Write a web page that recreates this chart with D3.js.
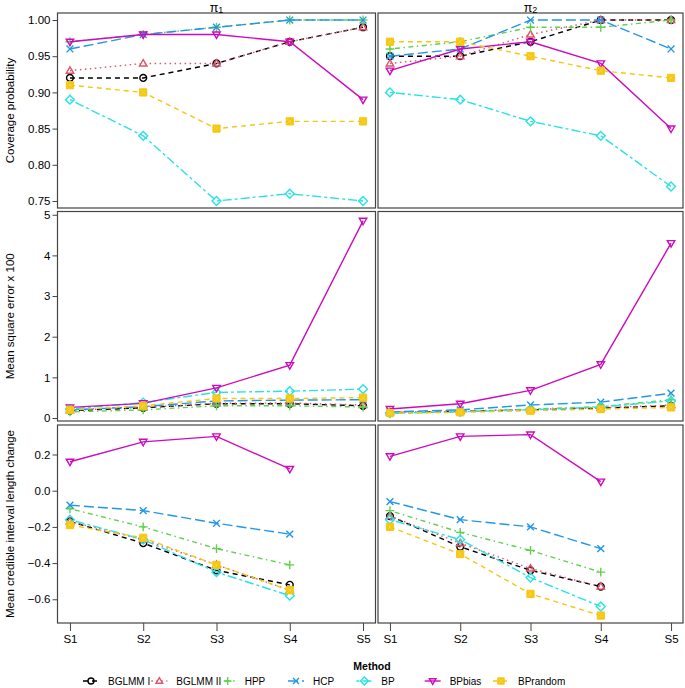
<!DOCTYPE html>
<html>
<head>
<meta charset="utf-8">
<script src="https://cdn.jsdelivr.net/npm/d3@7"></script>
<style>
  body { margin: 0; background: #fff; }
  text { font-family: "Liberation Sans", Arial, sans-serif; }
</style>
</head>
<body>
<div id="chart"></div>
<script>
const scenarios = ['S1', 'S2', 'S3', 'S4', 'S5'];
const methods = ['BGLMM I', 'BGLMM II', 'HPP', 'HCP', 'BP', 'BPbias', 'BPrandom'];
const colors = ['#000000', '#DF536B', '#61D04F', '#2297E6', '#28E2E5', '#CD0BBC', '#F5C710'];
const dashes = ['5,4', '1.5,3.5', '1.5,3.5,5,3.5', '10,4', '3,3,9,3', null, '5,4'];
const shapes = ['circle', 'triUp', 'plus', 'cross', 'diamond', 'triDown', 'square'];

const rowTitles = ['Coverage probability', 'Mean square error x 100', 'Mean credible interval length change'];
const colTitles = ['1', '2'];

const covTicks = [0.75, 0.80, 0.85, 0.90, 0.95, 1.00];
const mseTicks = [0, 1, 2, 3, 4, 5];
const lenTicks = [-0.6, -0.4, -0.2, 0.0, 0.2];

// coverage probability, one row per method
const covPi1 = [
  [0.92, 0.92, 0.94, 0.97, 0.99],
  [0.93, 0.94, 0.94, 0.97, 0.99],
  [0.97, 0.98, 0.99, 1.00, 1.00],
  [0.96, 0.98, 0.99, 1.00, 1.00],
  [0.89, 0.84, 0.75, 0.76, 0.75],
  [0.97, 0.98, 0.98, 0.97, 0.89],
  [0.91, 0.90, 0.85, 0.86, 0.86]
];
const covPi2 = [
  [0.95, 0.95, 0.97, 1.00, 1.00],
  [0.94, 0.95, 0.98, 1.00, 1.00],
  [0.96, 0.97, 0.99, 0.99, 1.00],
  [0.95, 0.96, 1.00, 1.00, 0.96],
  [0.90, 0.89, 0.86, 0.84, 0.77],
  [0.93, 0.96, 0.97, 0.94, 0.85],
  [0.97, 0.97, 0.95, 0.93, 0.92]
];
// mean square error x 100
const msePi1 = [
  [0.18, 0.25, 0.35, 0.35, 0.30],
  [0.19, 0.26, 0.36, 0.37, 0.32],
  [0.15, 0.20, 0.30, 0.30, 0.27],
  [0.20, 0.28, 0.42, 0.44, 0.45],
  [0.22, 0.38, 0.63, 0.66, 0.71],
  [0.26, 0.36, 0.74, 1.30, 4.85],
  [0.20, 0.30, 0.48, 0.48, 0.50]
];
const msePi2 = [
  [0.13, 0.16, 0.20, 0.24, 0.30],
  [0.14, 0.17, 0.21, 0.25, 0.32],
  [0.12, 0.15, 0.22, 0.28, 0.45],
  [0.15, 0.20, 0.32, 0.39, 0.61],
  [0.12, 0.15, 0.20, 0.27, 0.42],
  [0.22, 0.35, 0.68, 1.32, 4.30],
  [0.12, 0.14, 0.18, 0.22, 0.26]
];
// mean credible interval length change (no S5)
const lenPi1 = [
  [-0.17, -0.29, -0.44, -0.52, null],
  [-0.17, -0.27, -0.41, -0.55, null],
  [-0.10, -0.20, -0.32, -0.41, null],
  [-0.08, -0.11, -0.18, -0.24, null],
  [-0.16, -0.27, -0.45, -0.58, null],
  [0.16, 0.27, 0.30, 0.12, null],
  [-0.19, -0.26, -0.41, -0.55, null]
];
const lenPi2 = [
  [-0.14, -0.31, -0.44, -0.53, null],
  [-0.14, -0.29, -0.43, -0.53, null],
  [-0.11, -0.23, -0.33, -0.45, null],
  [-0.06, -0.16, -0.20, -0.32, null],
  [-0.16, -0.27, -0.48, -0.64, null],
  [0.19, 0.30, 0.31, 0.05, null],
  [-0.20, -0.35, -0.57, -0.69, null]
];

const W = 685, H = 688;
const svg = d3.select('#chart').append('svg')
  .attr('width', W)
  .attr('height', H);

const cols = [[57.5, 375.5], [378, 683]];
const rows = [[13, 208], [211.5, 421], [425, 623]];
const domains = [[0.7403, 1.0097], [-0.074, 5.08], [-0.731, 0.363]];
const ticks = [covTicks, mseTicks, lenTicks];
const fmts = [d3.format('.2f'), d3.format('d'), d3.format('.1f')];
const data = [[covPi1, covPi2], [msePi1, msePi2], [lenPi1, lenPi2]];

const symbolPath = (shape, s) => {
  const p = d3.path();
  if (shape === 'circle') {
    p.moveTo(s, 0); p.arc(0, 0, s, 0, 2 * Math.PI);
  } else if (shape === 'triUp') {
    p.moveTo(0, -s * 1.15); p.lineTo(s * 1.1, s * 0.75); p.lineTo(-s * 1.1, s * 0.75); p.closePath();
  } else if (shape === 'triDown') {
    p.moveTo(0, s * 1.15); p.lineTo(s * 1.1, -s * 0.75); p.lineTo(-s * 1.1, -s * 0.75); p.closePath();
  } else if (shape === 'plus') {
    p.moveTo(-s * 1.3, 0); p.lineTo(s * 1.3, 0); p.moveTo(0, -s * 1.3); p.lineTo(0, s * 1.3);
  } else if (shape === 'cross') {
    p.moveTo(-s, -s); p.lineTo(s, s); p.moveTo(-s, s); p.lineTo(s, -s);
  } else if (shape === 'diamond') {
    p.moveTo(0, -s * 1.3); p.lineTo(s * 1.3, 0); p.lineTo(0, s * 1.3); p.lineTo(-s * 1.3, 0); p.closePath();
  } else if (shape === 'square') {
    p.rect(-s, -s, 2 * s, 2 * s);
  }
  return p.toString();
};

const drawMarker = (g, i, x, y, s = 3.4) => {
  const m = g.append('g').attr('transform', `translate(${x},${y})`);
  if (shapes[i] === 'square') {
    m.append('path').attr('d', symbolPath('square', s + 0.2))
      .attr('fill', colors[i]).attr('stroke', colors[i]).attr('stroke-width', 1);
    m.append('path').attr('d', symbolPath('cross', s * 0.65))
      .attr('fill', 'none').attr('stroke', '#fbe38a').attr('stroke-width', 0.8)
      .attr('stroke-dasharray', '1,1');
  } else {
    m.append('path').attr('d', symbolPath(shapes[i], s))
      .attr('fill', 'none').attr('stroke', colors[i]).attr('stroke-width', 1.4);
  }
};

rows.forEach((r, ri) => {
  const y = d3.scaleLinear().domain(domains[ri]).range([r[1], r[0]]);
  cols.forEach((c, ci) => {
    const x = d3.scalePoint().domain(scenarios).range([c[0], c[1]]).padding(0.17);
    const g = svg.append('g');

    if (ci === 0) {
      g.append('g')
        .attr('transform', `translate(${c[0]},0)`)
        .call(d3.axisLeft(y).tickValues(ticks[ri]).tickFormat(fmts[ri]).tickSize(5).tickPadding(2))
        .call(a => a.select('.domain').remove())
        .call(a => a.selectAll('text').attr('font-size', 11.5).attr('fill', '#000')
          .text(d => fmts[ri](d).replace('-', '\u2212')))
        .call(a => a.selectAll('line').attr('stroke', '#444'));
    }
    if (ri === 2) {
      g.append('g')
        .attr('transform', `translate(0,${r[1]})`)
        .call(d3.axisBottom(x).tickSize(8).tickPadding(4))
        .call(a => a.select('.domain').remove())
        .call(a => a.selectAll('text').attr('font-size', 11.5).attr('fill', '#000'))
        .call(a => a.selectAll('line').attr('stroke', '#444'));
    }

    const series = data[ri][ci];
    const line = d3.line()
      .defined(d => d.v !== null)
      .x(d => x(d.s))
      .y(d => y(d.v));
    series.forEach((vals, mi) => {
      const pts = vals.map((v, k) => ({ s: scenarios[k], v }));
      g.append('path')
        .attr('d', line(pts))
        .attr('fill', 'none')
        .attr('stroke', colors[mi])
        .attr('stroke-width', 1.4)
        .attr('stroke-dasharray', dashes[mi]);
      pts.filter(d => d.v !== null).forEach(d => drawMarker(g, mi, x(d.s), y(d.v)));
    });

    g.append('rect')
      .attr('x', c[0]).attr('y', r[0])
      .attr('width', c[1] - c[0]).attr('height', r[1] - r[0])
      .attr('fill', 'none').attr('stroke', '#444').attr('stroke-width', 1.2);

    if (ri === 0) {
      const t = svg.append('text')
        .attr('x', (c[0] + c[1]) / 2).attr('y', 11.5)
        .attr('text-anchor', 'middle');
      t.append('tspan').attr('font-size', 12.5).text('\u03c0');
      t.append('tspan').attr('font-size', 9).attr('dy', 1.5).text(colTitles[ci]);
    }
  });

  svg.append('text')
    .attr('transform', `translate(14,${(r[0] + r[1]) / 2}) rotate(-90)`)
    .attr('text-anchor', 'middle')
    .attr('font-size', 11.5)
    .text(rowTitles[ri]);
});

// legend
svg.append('text')
  .attr('x', 372).attr('y', 670)
  .attr('text-anchor', 'middle')
  .attr('font-size', 10.5)
  .attr('font-weight', 'bold')
  .text('Method');

const lx = d3.scaleLinear().domain([0, methods.length - 1]).range([108, 518]);
methods.forEach((m, i) => {
  const g = svg.append('g');
  const cx = lx(i) - 17;
  g.append('line')
    .attr('x1', cx - 8).attr('x2', cx + 8)
    .attr('y1', 681).attr('y2', 681)
    .attr('stroke', colors[i]).attr('stroke-width', 1.4)
    .attr('stroke-dasharray', dashes[i]);
  drawMarker(g, i, cx, 681, 3);
  g.append('text')
    .attr('x', lx(i)).attr('y', 684.5)
    .attr('font-size', 10)
    .text(m);
});
</script>
</body>
</html>
